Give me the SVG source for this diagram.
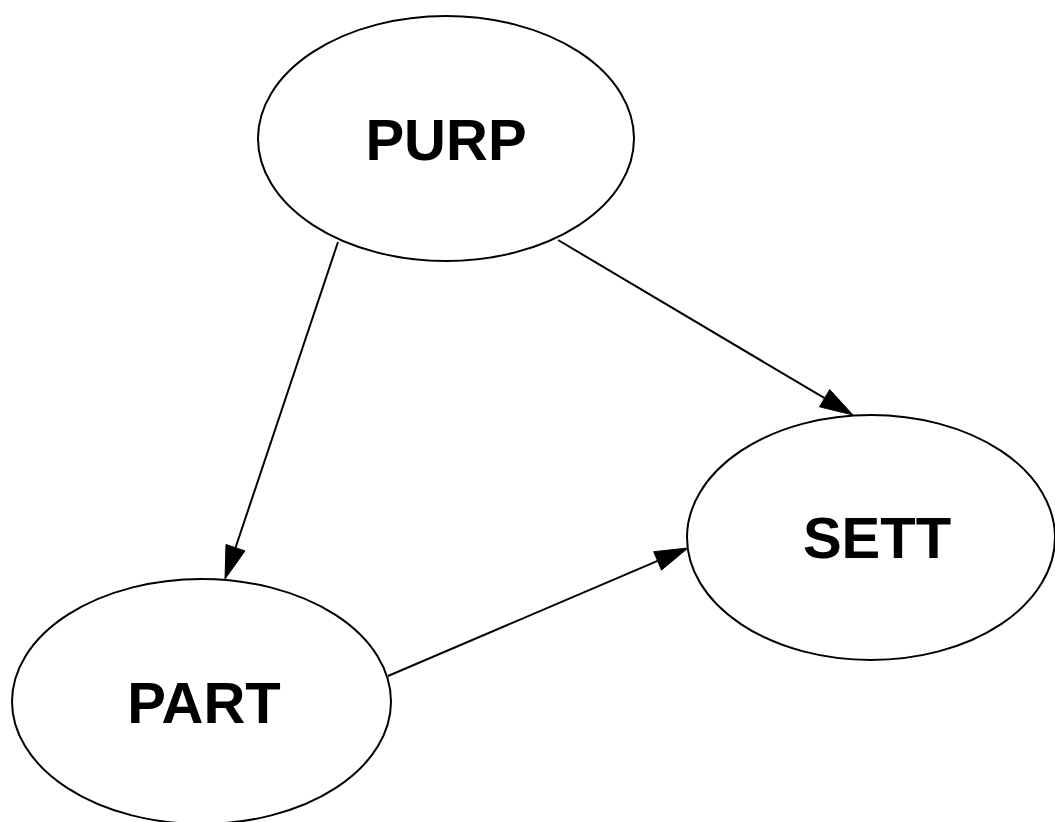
<svg xmlns="http://www.w3.org/2000/svg" width="1055" height="822" viewBox="0 0 1055 822">
<style>
.node{fill:#fff;stroke:#000;stroke-width:2}
.lbl{font-family:"Liberation Sans",Arial,sans-serif;font-weight:bold;font-size:58px;fill:#000;text-anchor:middle}
.edge{stroke:#000;stroke-width:2;fill:none}
.head{fill:#000;stroke:#000;stroke-width:1}
</style>
<rect width="1055" height="822" fill="#fff"/>
<g id="PURP"><ellipse class="node" cx="446" cy="138.5" rx="188" ry="122.5"/><text class="lbl" x="446" y="160">PURP</text></g>
<g id="SETT"><ellipse class="node" cx="871" cy="537.5" rx="184" ry="122.5"/><text class="lbl" x="877" y="558">SETT</text></g>
<g id="PART"><ellipse class="node" cx="201.5" cy="701.5" rx="189.5" ry="122.5"/><text class="lbl" x="204" y="723">PART</text></g>
<g id="edges">
<line class="edge" x1="338" y1="242" x2="235.5" y2="547.7"/>
<polygon class="head" points="225,579 245,550.9 226,544.5"/>
<line class="edge" x1="558" y1="240" x2="824.6" y2="398.2"/>
<polygon class="head" points="853,415 819.5,406.8 829.7,389.6"/>
<line class="edge" x1="388" y1="676" x2="657.6" y2="560.9"/>
<polygon class="head" points="688,548 661.5,570.1 653.7,551.7"/>
</g>
</svg>
